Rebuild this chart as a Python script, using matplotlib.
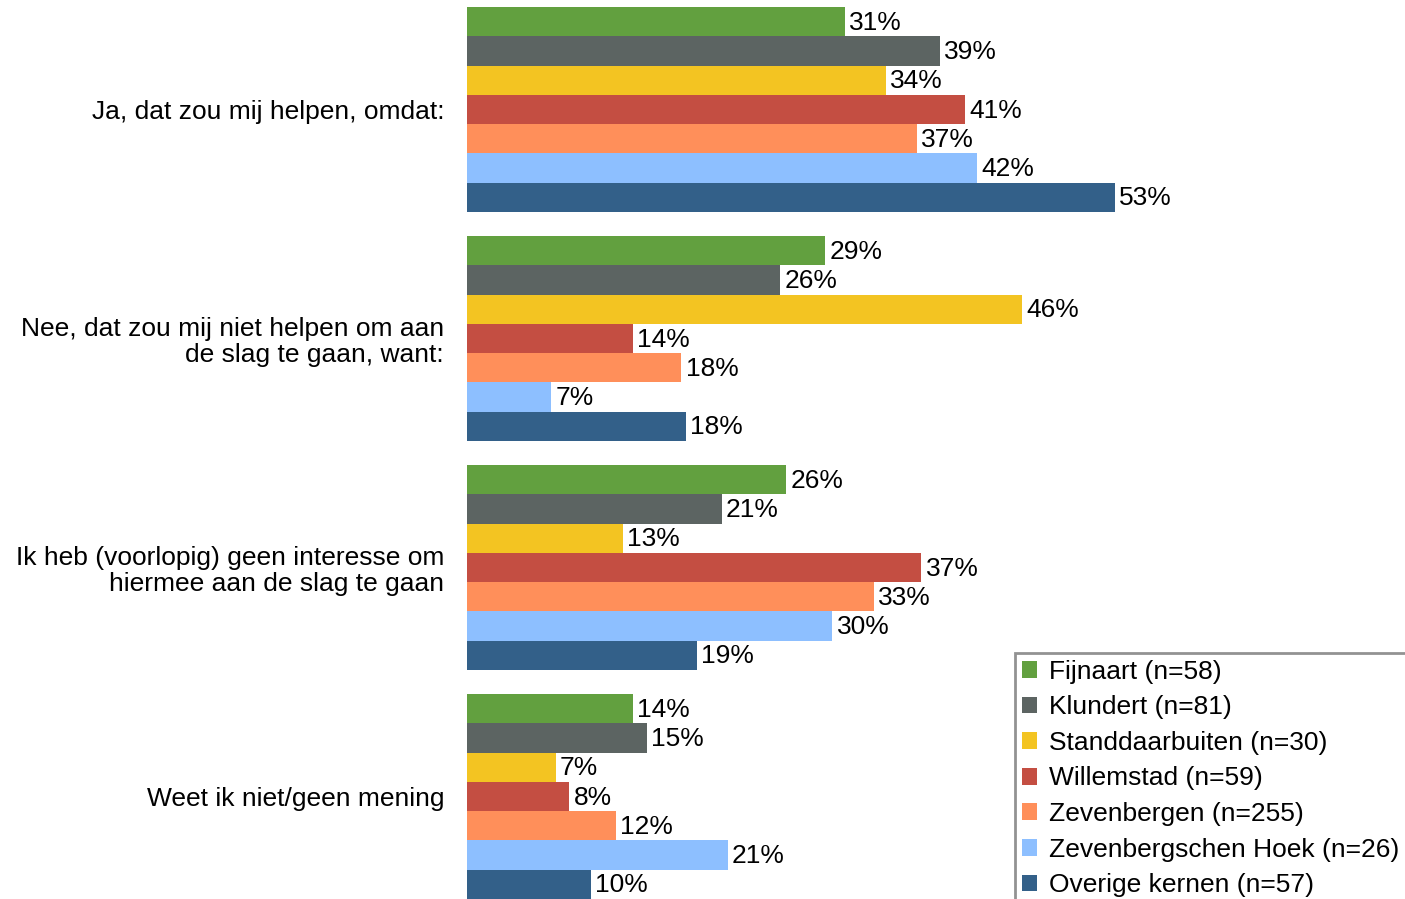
import matplotlib
matplotlib.use("Agg")
import matplotlib.pyplot as plt
import numpy as np

plt.rcParams['font.family'] = ['Liberation Sans', 'DejaVu Sans']

categories = ["Ja, dat zou mij helpen, omdat:",
              "Nee, dat zou mij niet helpen om aan\nde slag te gaan, want:",
              "Ik heb (voorlopig) geen interesse om\nhiermee aan de slag te gaan",
              "Weet ik niet/geen mening"]
series = ["Fijnaart (n=58)", "Klundert (n=81)", "Standdaarbuiten (n=30)",
          "Willemstad (n=59)", "Zevenbergen (n=255)",
          "Zevenbergschen Hoek (n=26)", "Overige kernen (n=57)"]
# values (%) per series, one per category
fijnaart = [31.0, 29.4, 26.2, 13.6]
klundert = [38.8, 25.7, 20.9, 14.8]
standdaarbuiten = [34.4, 45.6, 12.8, 7.3]
willemstad = [40.9, 13.6, 37.3, 8.4]
zevenbergen = [36.9, 17.6, 33.4, 12.2]
zevenbergschen_hoek = [41.9, 6.9, 30.0, 21.4]
overige = [53.2, 18.0, 18.9, 10.2]
values = [fijnaart, klundert, standdaarbuiten, willemstad, zevenbergen,
          zevenbergschen_hoek, overige]
colors = ["#62A03F", "#5C6462", "#F3C422", "#C44E42", "#FF8F5A",
          "#8DBFFF", "#336089"]

W, H = 1405, 899
fig = plt.figure(figsize=(W / 100, H / 100), dpi=100)
ax = fig.add_axes([467 / W, 0, 1 - 467 / W, 1])

n = len(series)
group_w = 205 / 229
bh = group_w / n
y = np.arange(len(categories))
fs = 19
for i, (vals, c, lab) in enumerate(zip(values, colors, series)):
    pos = y - group_w / 2 + bh * (i + 0.5)
    ax.barh(pos, vals, height=bh, color=c, label=lab, edgecolor='none')
    for p, v in zip(pos, vals):
        ax.annotate(f"{round(v)}%", xy=(v, p), xytext=(3, -0.8),
                    textcoords='offset points', va='center', ha='left',
                    fontsize=fs)

ax.set_xlim(0, 77.0)
ax.set_ylim(3 + (899 - 796.5) / 229, -109.5 / 229)
ax.set_yticks(y)
ax.set_yticklabels(categories, fontsize=fs, linespacing=1.12)
ax.tick_params(axis='y', length=0, pad=16.5)
ax.set_xticks([])
for s in ax.spines.values():
    s.set_visible(False)

leg = fig.legend(loc='upper left', bbox_to_anchor=(1015 / W, 1 - 653 / H),
                 fontsize=fs, frameon=True, fancybox=False,
                 handlelength=0.6, handleheight=0.6, handletextpad=0.45,
                 labelspacing=0.44, borderpad=0.25, borderaxespad=0)
leg.get_frame().set_edgecolor('#777777')
leg.get_frame().set_linewidth(2)

fig.savefig("out.png", dpi=100)
